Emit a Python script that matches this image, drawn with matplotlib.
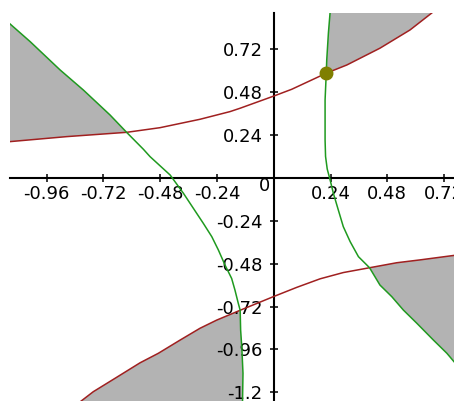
import matplotlib.pyplot as plt
import numpy as np

# кривые (x, y)
red_upper_x = [-1.115, -0.875, -0.622, -0.481, -0.312, -0.185, -0.142, 0.0, 0.076, 0.222, 0.309, 0.449, 0.576, 0.668]
red_upper_y = [0.203, 0.231, 0.255, 0.281, 0.328, 0.371, 0.390, 0.458, 0.496, 0.586, 0.632, 0.726, 0.828, 0.923]

red_lower_x = [-0.815, -0.763, -0.671, -0.565, -0.488, -0.396, -0.312, -0.241, -0.185, -0.142, -0.07, 0.0, 0.097, 0.196, 0.294, 0.405, 0.520, 0.619, 0.762]
red_lower_y = [-1.25, -1.197, -1.122, -1.035, -0.982, -0.908, -0.842, -0.796, -0.765, -0.741, -0.702, -0.664, -0.613, -0.565, -0.530, -0.503, -0.475, -0.459, -0.434]

green_left_x = [-1.115, -1.030, -0.903, -0.805, -0.692, -0.622, -0.551, -0.523, -0.438, -0.382, -0.340, -0.298, -0.262, -0.234, -0.206, -0.178, -0.164, -0.150, -0.142, -0.140, -0.135, -0.130, -0.132]
green_left_y = [0.862, 0.763, 0.604, 0.492, 0.352, 0.255, 0.160, 0.119, 0.016, -0.086, -0.170, -0.254, -0.329, -0.404, -0.488, -0.563, -0.628, -0.702, -0.741, -0.852, -0.950, -1.094, -1.25]

green_right_x = [0.238, 0.231, 0.224, 0.222, 0.217, 0.217, 0.219, 0.226, 0.238, 0.252, 0.273, 0.294, 0.323, 0.358, 0.405, 0.449, 0.499, 0.548, 0.605, 0.675, 0.732, 0.762]
green_right_y = [0.923, 0.810, 0.660, 0.586, 0.436, 0.212, 0.120, 0.050, -0.010, -0.086, -0.180, -0.273, -0.357, -0.441, -0.503, -0.600, -0.665, -0.740, -0.814, -0.908, -0.982, -1.029]

# точки пересечения
p1 = (-0.622, 0.255)
p2 = (0.222, 0.586)
p3 = (-0.142, -0.741)
p4 = (0.405, -0.503)

xticks = [-0.96, -0.72, -0.48, -0.24, 0.24, 0.48, 0.72]
yticks = [0.72, 0.48, 0.24, -0.24, -0.48, -0.72, -0.96, -1.2]
xlabels = ['-0.96', '-0.72', '-0.48', '-0.24', '0.24', '0.48', '0.72']
ylabels = ['0.72', '0.48', '0.24', '-0.24', '-0.48', '-0.72', '-0.96', '-1.2']

ru = np.column_stack([red_upper_x, red_upper_y])
rl = np.column_stack([red_lower_x, red_lower_y])
gl = np.column_stack([green_left_x, green_left_y])
gr = np.column_stack([green_right_x, green_right_y])

fig = plt.figure(figsize=(4.54, 4.01), dpi=100)
ax = fig.add_axes([10 / 454, 0, 444 / 454, 388 / 401])
ax.set_xlim(-1.115, 0.762)
ax.set_ylim(-1.249, 0.923)

gray = '#b3b3b3'
# закрашенные области
poly1 = np.vstack([ru[ru[:, 0] < p1[0]], [p1], gl[gl[:, 1] > p1[1]][::-1]])
poly2 = np.vstack([gr[gr[:, 1] > p2[1]], [p2], ru[ru[:, 0] > p2[0]]])
poly3 = np.vstack([rl[rl[:, 0] < p3[0]], [p3], gl[gl[:, 1] < p3[1]]])
poly4 = np.vstack([[p4], rl[rl[:, 0] > p4[0]], gr[gr[:, 1] < p4[1]][::-1]])
for p in [poly1, poly2, poly3, poly4]:
    ax.fill(p[:, 0], p[:, 1], color=gray, lw=0, zorder=1)

red = '#a02020'
green = '#1f9a1f'
ax.plot(ru[:, 0], ru[:, 1], color=red, lw=1.1, zorder=3)
ax.plot(rl[:, 0], rl[:, 1], color=red, lw=1.1, zorder=3)
ax.plot(gl[:, 0], gl[:, 1], color=green, lw=1.1, zorder=3)
ax.plot(gr[:, 0], gr[:, 1], color=green, lw=1.1, zorder=3)
ax.plot([p2[0]], [p2[1]], 'o', color='#7f7f00', ms=9, zorder=4)

# оси через начало координат
for s in ['top', 'right']:
    ax.spines[s].set_visible(False)
ax.spines['left'].set_position('zero')
ax.spines['bottom'].set_position('zero')
ax.spines['left'].set_linewidth(1.5)
ax.spines['bottom'].set_linewidth(1.5)

ax.set_xticks(xticks)
ax.set_xticklabels(xlabels)
ax.set_yticks(yticks)
ax.set_yticklabels(ylabels)
ax.tick_params(axis='both', direction='inout', length=6, width=1.1, labelsize=13)
ax.tick_params(axis='x', pad=2)
ax.tick_params(axis='y', pad=5)
ax.text(-0.037, -0.045, '0', fontsize=13, ha='center', va='center')

fig.savefig('out.png', dpi=100)
